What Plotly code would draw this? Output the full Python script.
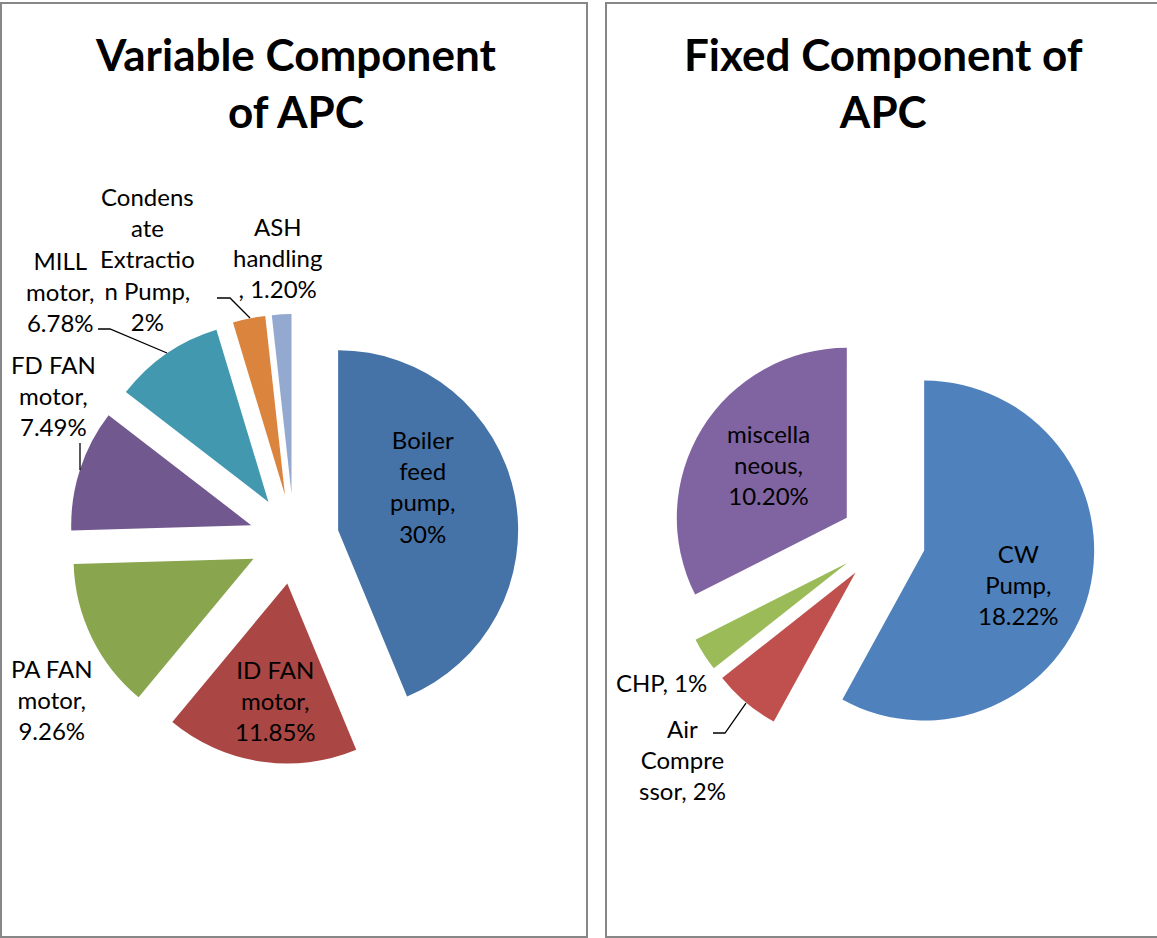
import plotly.graph_objects as go

# ---- data ----
var_names = ["Boiler feed pump", "ID FAN motor", "PA FAN motor", "FD FAN motor",
             "MILL motor", "Condensate Extraction Pump", "ASH handling"]
var_values = [30, 11.85, 9.26, 7.49, 6.78, 2, 1.20]
var_decimals = [0, 2, 2, 2, 2, 0, 2]

fix_names = ["CW Pump", "Air Compressor", "CHP", "miscellaneous"]
fix_values = [18.22, 2, 1, 10.20]
fix_decimals = [2, 0, 0, 2]

# ---- label text layout (line wrapping as drawn, {v} = formatted value) ----
var_wrap = ["Boiler<br>feed<br>pump,<br>{v}", "ID FAN<br>motor,<br>{v}", "PA FAN<br>motor,<br>{v}",
            "FD FAN<br>motor,<br>{v}", "MILL<br>motor,<br>{v}",
            "Condens<br>ate<br>Extractio<br>n Pump,<br>{v}", "ASH<br>handling<br>, {v}"]
fix_wrap = ["CW<br>Pump,<br>{v}", "Air<br>Compre<br>ssor, {v}", "CHP, {v}", "miscella<br>neous,<br>{v}"]

var_colors = ["#4572A7", "#AA4643", "#89A54E", "#71588F", "#4198AF", "#DB843D", "#93A9CF"]
fix_colors = ["#4F81BD", "#C0504D", "#9BBB59", "#8064A2"]

W, H = 1157, 938
FONT = "Lato"


def px(x):
    return x / W


def py(y):
    return 1 - y / H


def fmt(v, d):
    return f"{v:.{d}f}%"


fig = go.Figure()

# left pie: centre (294, 539), half-size 225 px
fig.add_trace(go.Pie(
    labels=var_names, values=var_values, sort=False, direction="clockwise", rotation=0,
    pull=[0.25] * len(var_values), textinfo="none", hoverinfo="label+value",
    marker=dict(colors=var_colors, line=dict(width=0)), showlegend=False,
    domain=dict(x=[px(294 - 225), px(294 + 225)], y=[py(539 + 225), py(539 - 225)]),
))

# right pie: centre (883, 540), half-size 212.5 px
fig.add_trace(go.Pie(
    labels=fix_names, values=fix_values, sort=False, direction="clockwise", rotation=0,
    pull=[0.25] * len(fix_values), textinfo="none", hoverinfo="label+value",
    marker=dict(colors=fix_colors, line=dict(width=0)), showlegend=False,
    domain=dict(x=[px(883 - 212.5), px(883 + 212.5)], y=[py(540 + 212.5), py(540 - 212.5)]),
))

# label anchor points (page pixels)
var_pos = [(422, 486.5), (275, 700.5), (52, 699.5), (53, 395), (60, 291.5), (147, 259), (277, 257.5)]
fix_pos = [(1018, 584.5), (683, 759.5), (661, 682), (768, 464.5)]

annotations = []
for wrap, v, d, (x, y) in zip(var_wrap, var_values, var_decimals, var_pos):
    annotations.append(dict(text=wrap.format(v=fmt(v, d)), x=px(x), y=py(y), xref="paper", yref="paper",
                            xanchor="center", yanchor="middle", showarrow=False, align="center",
                            font=dict(family=FONT, size=24, color="#000000")))
for wrap, v, d, (x, y) in zip(fix_wrap, fix_values, fix_decimals, fix_pos):
    annotations.append(dict(text=wrap.format(v=fmt(v, d)), x=px(x), y=py(y), xref="paper", yref="paper",
                            xanchor="center", yanchor="middle", showarrow=False, align="center",
                            font=dict(family=FONT, size=24, color="#000000")))

# titles
for title, x in [("Variable Component<br>of APC", 295), ("Fixed Component of<br>APC", 883)]:
    annotations.append(dict(text=f"<b>{title}</b>", x=px(x), y=py(83), xref="paper", yref="paper",
                            xanchor="center", yanchor="middle", showarrow=False, align="center",
                            font=dict(family=FONT, size=44, color="#000000")))

shapes = []
# panel frames
for x0, x1 in [(1, 587), (606, 1160)]:
    shapes.append(dict(type="rect", xref="paper", yref="paper", x0=px(x0), x1=px(x1), y0=py(937), y1=py(3),
                       line=dict(color="#878787", width=2), fillcolor="rgba(0,0,0,0)", layer="below"))

# leader lines
leaders = [
    [(98, 329), (110, 329), (167, 353)],   # MILL motor
    [(217, 298), (230, 298), (250, 318)],  # Condensate Extraction Pump
    [(80, 443), (80, 470)],                # FD FAN motor
    [(713, 733), (725, 733), (746, 703)],  # Air Compressor
]
for pts in leaders:
    path = "M " + " L ".join(f"{px(x):.5f},{py(y):.5f}" for x, y in pts)
    shapes.append(dict(type="path", xref="paper", yref="paper", path=path,
                       line=dict(color="#000000", width=1.3)))

fig.update_layout(
    width=W, height=H, margin=dict(l=0, r=0, t=0, b=0),
    paper_bgcolor="white", plot_bgcolor="white",
    annotations=annotations, shapes=shapes,
)

fig.write_html("out.html")
